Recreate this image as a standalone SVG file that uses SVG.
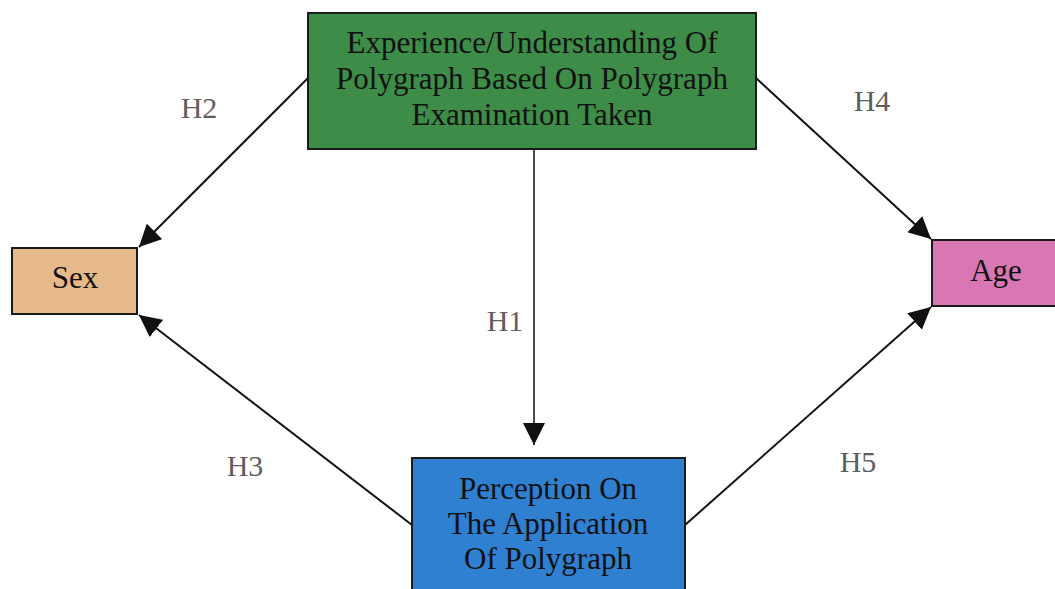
<svg xmlns="http://www.w3.org/2000/svg" width="1055" height="589" viewBox="0 0 1055 589">
<style>
.box{stroke:#1a1a1a;stroke-width:2}
.t{font-family:"Liberation Serif","Times New Roman",serif;font-size:31px;fill:#111;text-anchor:middle}
.h{font-family:"Liberation Serif","Times New Roman",serif;font-size:30px;fill:#5e5e5e;text-anchor:middle}
.c{stroke:#111;stroke-width:2;fill:none}
</style>
<defs>
<marker id="ahb" viewBox="0 0 10 10" refX="10" refY="5" markerWidth="22" markerHeight="22" markerUnits="userSpaceOnUse" orient="auto">
<path d="M0,0 L10,5 L0,10 z" fill="#111"/>
</marker>
</defs>
<rect width="1055" height="589" fill="#fff"/>
<g id="connectors">
<line class="c" x1="308" y1="78" x2="139" y2="247" marker-end="url(#ahb)"/>
<line class="c" x1="756" y1="78" x2="931" y2="239" marker-end="url(#ahb)"/>
<line class="c" x1="412" y1="525" x2="139" y2="315" marker-end="url(#ahb)"/>
<line class="c" x1="685" y1="525" x2="931" y2="307" marker-end="url(#ahb)"/>
<line stroke="#111" stroke-width="1.5" x1="534" y1="150" x2="534" y2="445" marker-end="url(#ahb)"/>
<text class="h" x="199" y="118">H2</text>
<text class="h" x="872" y="111">H4</text>
<text class="h" x="505" y="331">H1</text>
<text class="h" x="245" y="476">H3</text>
<text class="h" x="858" y="472">H5</text>
</g>
<g id="node-experience">
<rect class="box" x="308" y="13" width="448" height="136" fill="#3d8c48"/>
<text class="t" x="532" y="53">Experience/Understanding Of</text>
<text class="t" x="532" y="89">Polygraph Based On Polygraph</text>
<text class="t" x="532" y="125">Examination Taken</text>
</g>
<g id="node-sex">
<rect class="box" x="12" y="248" width="125" height="66" fill="#e6b98a"/>
<text class="t" x="75" y="288">Sex</text>
</g>
<g id="node-age">
<rect class="box" x="932" y="240" width="130" height="66" fill="#d877b3"/>
<text class="t" x="996" y="281">Age</text>
</g>
<g id="node-perception">
<rect class="box" x="412" y="458" width="273" height="140" fill="#2f80d0"/>
<text class="t" x="548" y="499">Perception On</text>
<text class="t" x="548" y="534">The Application</text>
<text class="t" x="548" y="569">Of Polygraph</text>
</g>
</svg>
